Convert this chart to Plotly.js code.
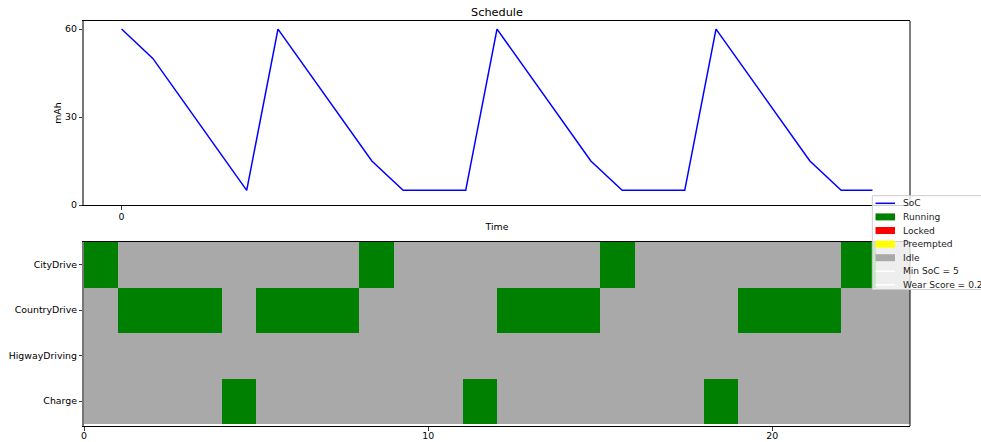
<!DOCTYPE html>
<html>
<head>
<meta charset="utf-8">
<script src="https://cdn.plot.ly/plotly-3.0.1.min.js"></script>
<style>html,body{margin:0;padding:0;background:#fff;}#chart{width:981px;height:442px;}</style>
</head>
<body>
<div id="chart"></div>
<script>
// ---- data ----
const time = [0,1,2,3,4,5,6,7,8,9,10,11,12,13,14,15,16,17,18,19,20,21,22,23,24];
const soc  = [60,50,35,20,5,60,45,30,15,5,5,5,60,45,30,15,5,5,5,60,45,30,15,5,5];

const tasks = ['CityDrive','CountryDrive','HigwayDriving','Charge'];
// 1 = Running, 0 = Idle, one entry per time slot [t, t+1)
const cityDrive    = [1,0,0,0,0,0,0,0,1,0,0,0,0,0,0,1,0,0,0,0,0,0,1,0];
const countryDrive = [0,1,1,1,0,1,1,1,0,0,0,0,1,1,1,0,0,0,0,1,1,1,0,0];
const highwayDrive = [0,0,0,0,0,0,0,0,0,0,0,0,0,0,0,0,0,0,0,0,0,0,0,0];
const charge       = [0,0,0,0,1,0,0,0,0,0,0,1,0,0,0,0,0,0,1,0,0,0,0,0];

const topXTicks = [0];
const topYTicks = [0,30,60];
const botXTicks = [0,10,20];

const legendLabels = ['SoC','Running','Locked','Preempted','Idle','Min SoC = 5','Wear Score = 0.2'];
const legendColors = ['blue','#008000','#ff0000','#ffff00','#a9a9a9','#ffffff','#ffffff'];
const legendKinds  = ['line','rect','rect','rect','rect','line','line'];

// ---- layout geometry (pixels) ----
const W = 981, H = 442, L = 84, R = 71, T = 21, B = 16;
const pw = W - L - R, ph = H - T - B;
const px = x => (x - L) / pw;
const py = y => (H - B - y) / ph;
const FONT = 'DejaVu Sans, Liberation Sans, sans-serif';
const fs = 9.4;

const traces = [
  {
    type: 'scatter', mode: 'lines', x: time, y: soc,
    xaxis: 'x', yaxis: 'y',
    line: {color: 'blue', width: 1.5}, showlegend: false, hoverinfo: 'skip'
  },
  {
    type: 'heatmap', x: time, y: [0,1,2,3],
    z: [cityDrive, countryDrive, highwayDrive, charge],
    xaxis: 'x2', yaxis: 'y2', zmin: 0, zmax: 1, showscale: false,
    colorscale: [[0,'#a9a9a9'],[0.5,'#a9a9a9'],[0.5,'#008000'],[1,'#008000']],
    hoverinfo: 'skip'
  }
];

const topDom = [py(205), 1];
const botDom = [0, py(242)];

const axBase = {
  showgrid: false, zeroline: false, showline: true, linecolor: 'black', linewidth: 1,
  ticks: 'outside', ticklen: 3.5, tickwidth: 0.8, tickcolor: 'black',
  tickfont: {family: FONT, size: fs, color: 'black'}, automargin: false
};

const shapes = [
  // right spines
  {type:'line', xref:'paper', yref:'paper', x0:1, x1:1, y0:topDom[0], y1:topDom[1], line:{color:'black', width:1}},
  {type:'line', xref:'paper', yref:'paper', x0:1, x1:1, y0:botDom[0], y1:botDom[1], line:{color:'black', width:1}},
  // legend frame
  {type:'rect', xref:'paper', yref:'paper', layer:'above', x0:px(872.3), x1:px(1010), y0:py(289.5), y1:py(195.7),
   fillcolor:'rgba(255,255,255,0.8)', line:{color:'#cccccc', width:1}}
];
const annotations = [];
const legTop = 203.3, legStep = 13.6;
legendLabels.forEach((lab, i) => {
  const yc = legTop + i * legStep;
  if (legendKinds[i] === 'line') {
    shapes.push({type:'line', xref:'paper', yref:'paper', layer:'above', x0:px(875.5), x1:px(895), y0:py(yc), y1:py(yc),
      line:{color: legendColors[i], width:1.5}});
  } else {
    shapes.push({type:'rect', xref:'paper', yref:'paper', layer:'above', x0:px(875.5), x1:px(895), y0:py(yc+3.5), y1:py(yc-3.5),
      fillcolor: legendColors[i], line:{width:0}});
  }
  annotations.push({xref:'paper', yref:'paper', x:px(900.5), y:py(yc), xanchor:'left', yanchor:'middle',
    text: lab, showarrow:false, font:{family:FONT, size:9.1, color:'#222'}});
});

const layout = {
  width: W, height: H, autosize: false,
  margin: {l: L, r: R, t: T, b: B, pad: 0},
  paper_bgcolor: 'white', plot_bgcolor: 'white',
  font: {family: FONT, size: fs, color: 'black'},
  showlegend: false,
  title: {text: 'Schedule', font: {family: FONT, size: 11.3, color: 'black'},
          xref: 'paper', x: 0.5, xanchor: 'center', yref: 'container', y: 1 - 12.5 / H, yanchor: 'middle'},
  xaxis: Object.assign({}, axBase, {domain: [0,1], anchor: 'y', range: [-1.2, 25.2], tickvals: topXTicks, mirror: true,
    ticklabelstandoff: -1,
    title: {text: 'Time', font: {family: FONT, size: fs, color: 'black'}, standoff: 2}}),
  yaxis: Object.assign({}, axBase, {domain: topDom, anchor: 'x', range: [0, 62.75], tickvals: topYTicks,
    linecolor: '#777', linewidth: 1.6,
    title: {text: 'mAh', font: {family: FONT, size: fs, color: 'black'}, standoff: 2}}),
  xaxis2: Object.assign({}, axBase, {domain: [0,1], anchor: 'y2', range: [0, 24], tickvals: botXTicks, mirror: true,
    ticklabelstandoff: -3}),
  yaxis2: Object.assign({}, axBase, {domain: botDom, anchor: 'x2', range: [3.55, -0.5], tickvals: [0,1,2,3], ticktext: tasks,
    linecolor: '#777', linewidth: 1.6}),
  shapes: shapes,
  annotations: annotations
};

Plotly.newPlot('chart', traces, layout, {staticPlot: true, displayModeBar: false});
</script>
</body>
</html>
